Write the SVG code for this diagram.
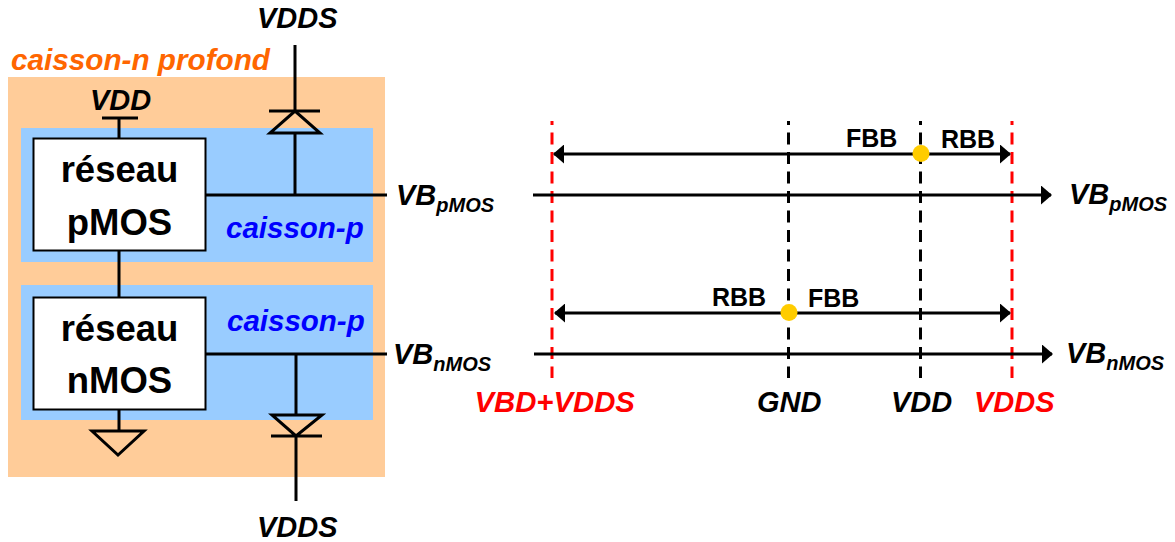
<svg xmlns="http://www.w3.org/2000/svg" width="1175" height="542" viewBox="0 0 1175 542">
<style>
text{font-family:"Liberation Sans",Arial,sans-serif;font-weight:700;fill:#000}
.i{font-style:italic}
.l{font-size:29px}
.s{font-size:20px}
.b{font-size:36.500px;text-anchor:middle}
.m{font-size:25px}
.e{font-size:29px}
.c{font-size:29.500px;fill:#0000ff;font-style:italic}
.w{fill:none;stroke:#000;stroke-width:3}
.a{fill:none;stroke:#000;stroke-width:3}
.dk{stroke:#000;stroke-width:3;stroke-dasharray:12 7.500;stroke-dashoffset:8;fill:none}
.dr{stroke:#ff0000;stroke-width:3;stroke-dasharray:12 7.500;stroke-dashoffset:8;fill:none}
</style>
<defs>
<marker id="ah" markerUnits="userSpaceOnUse" viewBox="0 0 11 19" markerWidth="11" markerHeight="19" refX="10" refY="9.500" orient="auto-start-reverse"><path d="M0 0L11 9.500L0 19Z" fill="#000"/></marker>
</defs>
<g id="caisson-n"><rect x="8" y="77" width="377" height="400" fill="#ffcc99"/><text class="i" x="11" y="70" font-size="29.700" style="fill:#ff6600">caisson-n profond</text></g>
<g id="caisson-p-top"><rect x="21" y="128" width="352" height="134" fill="#99ccff"/><text class="c" x="226" y="238">caisson-p</text></g>
<g id="caisson-p-bottom"><rect x="21" y="285" width="352" height="135" fill="#99ccff"/><text class="c" x="227" y="331">caisson-p</text></g>
<g id="connectors">
<path class="w" d="M119 117V138M102 118H138M119 250V297M119 409V431"/>
<path class="w" d="M295 45V111M269 111H320M295 133V195M205 195H387"/>
<path class="w" d="M270 133H320L295 111Z"/>
<path class="w" d="M205 354H387M296 354V415M272 415H322L296 436ZM271 436H322M296 436V501"/>
<path class="w" d="M92 431H144L118 455Z"/>
<path class="dr" d="M552 121V378M1012 121V378"/>
<path class="dk" d="M788.500 121V378M920.500 121V378"/>
<path class="a" marker-start="url(#ah)" marker-end="url(#ah)" d="M554 154H1010"/>
<path class="a" marker-start="url(#ah)" marker-end="url(#ah)" d="M555 313H1010"/>
<path class="a" marker-end="url(#ah)" d="M533 195H1051"/>
<path class="a" marker-end="url(#ah)" d="M534 354H1052"/>
</g>
<g id="reseau-pmos"><rect x="33.500" y="138.500" width="172" height="112" fill="#fff" stroke="#000" stroke-width="2"/><text class="b" x="119.500" y="182">réseau</text><text class="b" x="119.500" y="235">pMOS</text></g>
<g id="reseau-nmos"><rect x="33.500" y="297.500" width="172" height="112" fill="#fff" stroke="#000" stroke-width="2"/><text class="b" x="119.500" y="341">réseau</text><text class="b" x="119.500" y="393">nMOS</text></g>
<g id="dot-top"><circle cx="921" cy="153.500" r="8.500" fill="#ffcc00"/></g>
<g id="dot-bottom"><circle cx="789" cy="312.500" r="8.500" fill="#ffcc00"/></g>
<g id="labels">
<text class="i l" x="257" y="28">VDDS</text>
<text class="i l" x="257" y="537">VDDS</text>
<text class="i e" x="90" y="110">VDD</text>
<text class="i l" x="396" y="205">VB<tspan class="s" dy="7">pMOS</tspan></text>
<text class="i l" x="393" y="364">VB<tspan class="s" dy="7">nMOS</tspan></text>
<text class="i l" x="1069" y="204">VB<tspan class="s" dy="7">pMOS</tspan></text>
<text class="i l" x="1066" y="363">VB<tspan class="s" dy="7">nMOS</tspan></text>
<text class="m" x="846" y="147">FBB</text>
<text class="m" x="941" y="148">RBB</text>
<text class="m" x="712" y="306">RBB</text>
<text class="m" x="808" y="307">FBB</text>
<text class="i" font-size="29.300" style="fill:#ff0000" x="474.500" y="412">VBD+VDDS</text>
<text class="i e" x="757" y="412">GND</text>
<text class="i e" x="891" y="412">VDD</text>
<text class="i e" style="fill:#ff0000" x="974" y="412">VDDS</text>
</g>
</svg>
